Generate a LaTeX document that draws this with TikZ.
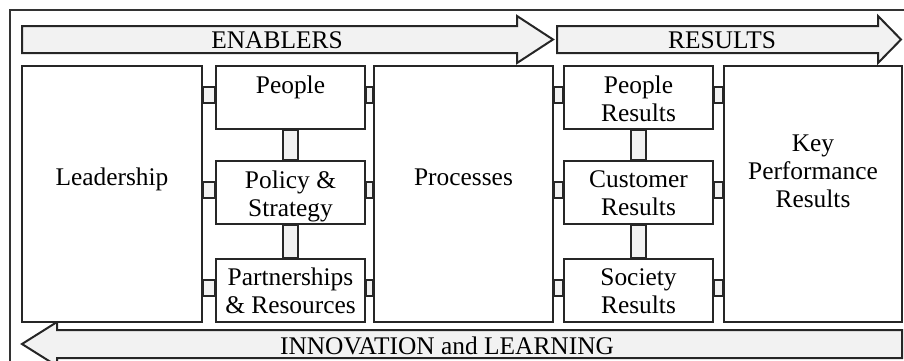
\documentclass[12pt,tikz,border=0pt]{standalone}
\usepackage{fontspec}
\setmainfont{Liberation Serif}
\usetikzlibrary{positioning,backgrounds}
\tikzset{%
  blk/.style={draw=black!85, line width=1pt, fill=white, inner sep=0pt},
  bigbox/.style={blk, minimum width=89.5pt, minimum height=128pt},
  smallbox/.style={blk, minimum width=74.5pt, minimum height=31.5pt},
  band/.style={draw=black!85, line width=1pt, fill=gray!10, line join=miter},
  link/.style={draw=black!85, line width=1pt, fill=gray!10},
  lbl/.style={inner sep=0pt, align=center}
}

\begin{document}
\begin{tikzpicture}[x=0.5pt,y=-0.5pt,font=\fontsize{12.7}{14}\selectfont]
\useasboundingbox (0,0) rectangle (904,360);
\clip (0,0) rectangle (904,360);
\draw[black!80, line width=0.6pt] (10,10) rectangle (920,380);
% arrows
\draw[band] (22,26) -- (517,26) -- (517,16) -- (553,39.5) -- (517,63) -- (517,53) -- (22,53) -- cycle;
\draw[band] (557,26) -- (878,26) -- (878,16) -- (901,39.5) -- (878,63) -- (878,53) -- (557,53) -- cycle;
\draw[band] (902,330) -- (57,330) -- (57,322) -- (22,344) -- (57,366) -- (57,358) -- (902,358) -- cycle;
\node (enab) at (277,40) {ENABLERS};
\node (res) at (722,40) {RESULTS};
\node (innov) at (447,346) {INNOVATION and LEARNING};
% boxes
\node[bigbox, minimum width=90pt] (lead) at (112,194) {};
\node[bigbox] (proc) at (463.5,194) {};
\node[bigbox, minimum width=89pt] (kpr) at (813,194) {};
\node[smallbox] (ppl) at (290.5,97.5) {};
\node[smallbox] (pol) at (290.5,192.5) {};
\node[smallbox] (part) at (290.5,290) {};
\node[smallbox] (pres) at (638.5,97.5) {};
\node[smallbox] (cres) at (638.5,192.5) {};
\node[smallbox] (sres) at (638.5,290) {};
\node[lbl, anchor=base] (lead-t) at (112,185) {Leadership};
\node[lbl, anchor=base] (proc-t) at (463.5,185) {Processes};
\node[lbl, anchor=north] (kpr-t) at (813,134.5) {Key\\Performance\\Results};
\node[lbl, below=5.2pt of ppl.north] (ppl-t) {People};
\node[lbl, below=5.2pt of pol.north] (pol-t) {Policy \&\\Strategy};
\node[lbl, below=5.2pt of part.north] (part-t) {Partnerships\\\& Resources};
\node[lbl, below=5.2pt of pres.north] (pres-t) {People\\Results};
\node[lbl, below=5.2pt of cres.north] (cres-t) {Customer\\Results};
\node[lbl, below=5.2pt of sres.north] (sres-t) {Society\\Results};
% links
\begin{scope}[on background layer]
\foreach \b in {ppl,pol,part}{
  \draw[link] ([yshift=5.25pt]lead.east |- \b) rectangle ([yshift=-2.75pt]\b.west);
  \draw[link] ([yshift=5.25pt]\b.east) rectangle ([yshift=-2.75pt]proc.west |- \b);
}
\foreach \b in {pres,cres,sres}{
  \draw[link] ([yshift=5.25pt]proc.east |- \b) rectangle ([yshift=-2.75pt]\b.west);
  \draw[link] ([yshift=5.25pt]\b.east) rectangle ([yshift=-2.75pt]kpr.west |- \b);
}
\foreach \a/\b in {ppl/pol,pol/part,pres/cres,cres/sres}
  \draw[link] ([xshift=-3.75pt]\a.south) rectangle ([xshift=3.75pt]\b.north);
\end{scope}
\end{tikzpicture}
\end{document}
